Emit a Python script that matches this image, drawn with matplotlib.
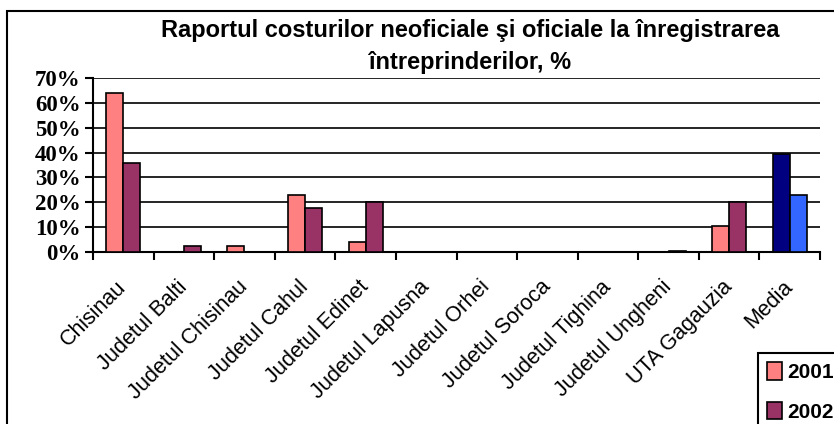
import numpy as np
import matplotlib.pyplot as plt
import matplotlib.transforms as mtransforms
from matplotlib.patches import Rectangle, Patch

# data
categories = ['Chisinau', 'Judetul Balti', 'Judetul Chisinau', 'Judetul Cahul',
              'Judetul Edinet', 'Judetul Lapusna', 'Judetul Orhei', 'Judetul Soroca',
              'Judetul Tighina', 'Judetul Ungheni', 'UTA Gagauzia', 'Media']
val_2001 = [64, 0, 2.5, 23, 3.9, 0, 0, 0, 0, 0, 10.3, 39.3]
val_2002 = [36, 2.5, 0, 17.7, 20, 0, 0, 0, 0, 0.5, 20, 23]

c2001 = '#FF8080'
c2002 = '#993366'
media_colors = ['#000080', '#3366FF']

fig = plt.figure(figsize=(8.34, 4.24), dpi=100)
ax = fig.add_axes([93/834, 1 - 252/424, (820 - 93)/834, (252 - 78)/424])

# outer chart border (runs past the right and bottom edges)
fig.patches.append(Rectangle((7/834, -0.1), 1.2, 1 - 11/424 + 0.1, transform=fig.transFigure,
                             fill=False, edgecolor='black', linewidth=1.5))

x = np.arange(len(categories))
w = 0.28
cols1 = [c2001] * (len(categories) - 1) + [media_colors[0]]
cols2 = [c2002] * (len(categories) - 1) + [media_colors[1]]
ax.bar(x - w/2, val_2001, w, color=cols1, edgecolor='black', linewidth=1.2, zorder=3)
ax.bar(x + w/2, val_2002, w, color=cols2, edgecolor='black', linewidth=1.2, zorder=3)

ax.set_xlim(-0.5, len(categories) - 0.5)
ax.set_ylim(0, 70)
ax.set_yticks(range(0, 71, 10))
ax.set_yticklabels([f'{v}%' for v in range(0, 71, 10)],
                   fontfamily='Liberation Serif', fontweight='bold', fontsize=16.5)
ax.yaxis.grid(True, color='black', linewidth=1.2, zorder=0)

ax.set_xticks(np.arange(-0.5, len(categories), 1))
ax.set_xticklabels([])
ax.set_xticks(x, minor=True)
labels = ax.set_xticklabels(categories, minor=True, rotation=45, ha='right', va='center',
                            rotation_mode='anchor', fontfamily='Liberation Sans', fontsize=15.5)
shift = mtransforms.ScaledTranslation(-33/100, 0, fig.dpi_scale_trans)
for lab in labels:
    lab.set_transform(lab.get_transform() + shift)
ax.tick_params(axis='x', which='minor', length=0, pad=23)
ax.tick_params(axis='x', which='major', length=6, width=1.5, direction='out')
ax.tick_params(axis='y', length=6, width=1.5, direction='out', pad=3)

for s in ['top', 'right']:
    ax.spines[s].set_visible(False)
ax.spines['left'].set_linewidth(1.5)
ax.spines['bottom'].set_linewidth(1.5)

fig.text(470/834, 1 - 31/424, 'Raportul costurilor neoficiale şi oficiale la înregistrarea',
         ha='center', va='center', fontfamily='Liberation Sans', fontweight='bold', fontsize=17)
fig.text(470/834, 1 - 62/424, 'întreprinderilor, %',
         ha='center', va='center', fontfamily='Liberation Sans', fontweight='bold', fontsize=17)

handles = [Patch(facecolor=c2001, edgecolor='black', linewidth=1.2),
           Patch(facecolor=c2002, edgecolor='black', linewidth=1.2)]
leg = fig.legend(handles, ['2001', '2002'], loc='upper left',
                 bbox_to_anchor=(758/834, 1 - 353/424),
                 prop={'family': 'Liberation Sans', 'weight': 'bold', 'size': 15},
                 frameon=True, fancybox=False, edgecolor='black', framealpha=1,
                 handlelength=0.7, handleheight=0.9, handletextpad=0.25,
                 labelspacing=0.95, borderpad=0.45, borderaxespad=0)
leg.get_frame().set_linewidth(1.5)

fig.savefig('out.png', dpi=100)
